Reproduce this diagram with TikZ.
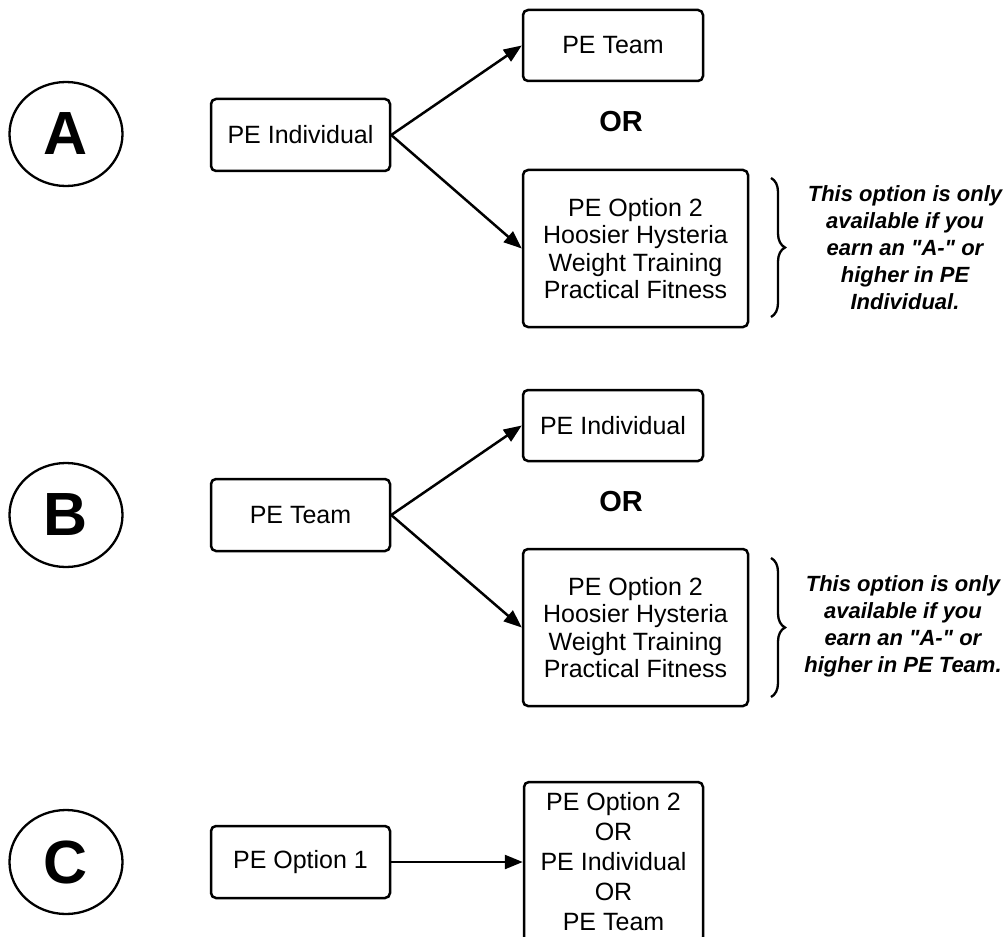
\documentclass[tikz,border=0pt]{standalone}
\usepackage{fontspec}
\setmainfont{Liberation Sans}[Ligatures=TeXOff]
\usetikzlibrary{arrows.meta,shapes.geometric,decorations.pathreplacing}
\begin{document}
\begin{tikzpicture}[x=1pt,y=-1pt,
 box/.style={draw,line width=2.5pt,rounded corners=5pt,inner sep=0pt,align=center,font=\fontsize{25}{27.5}\selectfont},
 lett/.style={draw,ellipse,line width=2.3pt,minimum width=113pt,minimum height=104pt,inner sep=0pt,font=\fontsize{61}{61}\selectfont\bfseries},
 ortxt/.style={inner sep=0pt,font=\fontsize{29}{30}\selectfont\bfseries},
 note/.style={align=center,inner sep=0pt,font=\fontsize{22}{27}\selectfont\bfseries\itshape},
 arr/.style={line width=2.5pt,-{Triangle[length=18pt,width=14pt]}},
 brc/.style={line width=2.3pt,decorate,decoration={brace,amplitude=14pt}}]
\useasboundingbox (0,0) rectangle (1008,936);
\clip (0,0) rectangle (1008,936);
\fill[white] (0,0) rectangle (1008,936);
% ---------- A ----------
\node[lett] (ca) at (66,134) {A};
\node[box,minimum width=179pt,minimum height=72pt] (aind) at (300.5,135) {PE Individual};
\node[box,minimum width=180pt,minimum height=71pt] (ateam) at (613,45.5) {PE Team};
\node[ortxt] (aor) at (621,122) {OR};
\node[box,minimum width=225pt,minimum height=157pt] (aopt) at (635.5,248.5) {PE Option 2\\Hoosier Hysteria\\Weight Training\\Practical Fitness};
\coordinate (abt) at (771,178);
\coordinate (abb) at (771,317);
\draw[brc] (abt) -- (abb);
\node[note] (anote) at (905,248) {This option is only\\available if you\\earn an "A-" or\\higher in PE\\Individual.};
\draw[arr] (aind.east) -- (ateam.west);
\draw[arr] (aind.east) -- (aopt.west);
% ---------- B ----------
\node[lett] (cb) at (66,515) {B};
\node[box,minimum width=179pt,minimum height=72pt] (bteam) at (300.5,515) {PE Team};
\node[box,minimum width=180pt,minimum height=71pt] (bind) at (613,425.5) {PE Individual};
\node[ortxt] (bor) at (621,502) {OR};
\node[box,minimum width=225pt,minimum height=157pt] (bopt) at (635.5,627.5) {PE Option 2\\Hoosier Hysteria\\Weight Training\\Practical Fitness};
\coordinate (bbt) at (771,558);
\coordinate (bbb) at (771,697);
\draw[brc] (bbt) -- (bbb);
\node[note] (bnote) at (903,626) {This option is only\\available if you\\earn an "A-" or\\higher in PE Team.};
\draw[arr] (bteam.east) -- (bind.west);
\draw[arr] (bteam.east) -- (bopt.west);
% ---------- C ----------
\node[lett] (cc) at (66,862) {C};
\node[box,minimum width=179pt,minimum height=160pt,font=\fontsize{25}{30}\selectfont] (cnext) at (613.5,862) {PE Option 2\\OR\\PE Individual\\OR\\PE Team};
\node[box,minimum width=179pt,minimum height=72pt] (copt1) at (300.5,862) {PE Option 1};
\draw[arr] (copt1.east) -- (cnext.west);
\end{tikzpicture}
\end{document}
